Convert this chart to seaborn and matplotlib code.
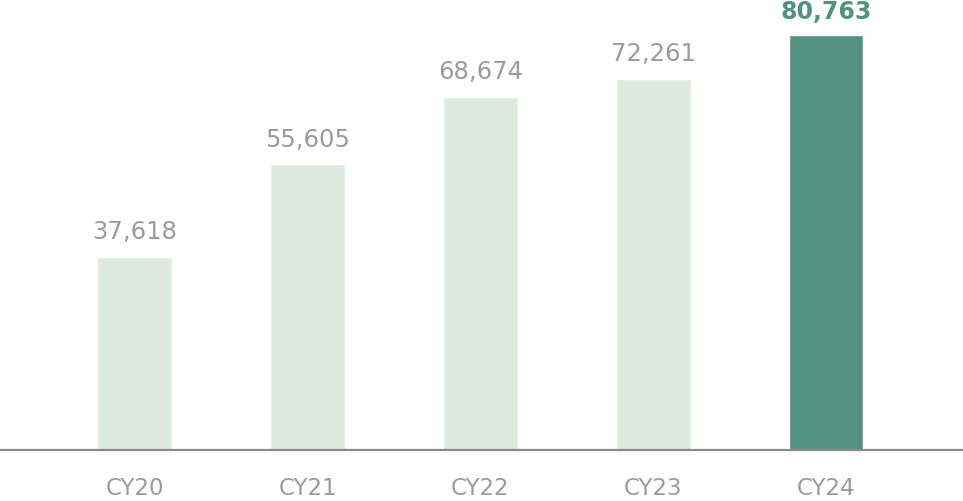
import matplotlib
matplotlib.use('Agg')
import matplotlib.pyplot as plt
import seaborn as sns
import pandas as pd

# ======= data =======
years = ['CY20', 'CY21', 'CY22', 'CY23', 'CY24']
values = [37618, 55605, 68674, 72261, 80763]
highlight = 'CY24'

light_green = '#dee9e0'
dark_green = '#52927f'
gray_text = '#9b9b9b'

sns.set_theme(style='white')
plt.rcParams['font.family'] = ['DejaVu Sans']

df = pd.DataFrame({'year': years, 'value': values})
palette = {y: (dark_green if y == highlight else light_green) for y in years}

fig = plt.figure(figsize=(9.63, 5.02), dpi=100)
ax = fig.add_axes([0, 51 / 502, 1, 451 / 502])

sns.barplot(data=df, x='year', y='value', hue='year', palette=palette,
            width=0.434, saturation=1, legend=False, ax=ax)

# 数值标签
for i, (y, v) in enumerate(zip(years, values)):
    is_hl = (y == highlight)
    ax.annotate(f'{v:,}', xy=(i, v), xytext=(0, 12.5 if is_hl else 13.5),
                textcoords='offset points',
                ha='center', va='baseline', fontsize=17 if is_hl else 17.5,
                color=dark_green if is_hl else gray_text,
                fontweight='bold' if is_hl else 'normal')

ax.set_xlim(-0.781, 4.793)
ax.set_ylim(0, 87780)
ax.set_xlabel('')
ax.set_ylabel('')
ax.set_yticks([])
ax.tick_params(axis='x', length=0, pad=19, labelsize=16.5, labelcolor=gray_text)

for s in ['top', 'left', 'right']:
    ax.spines[s].set_visible(False)
ax.spines['bottom'].set_color('#8a8a8a')
ax.spines['bottom'].set_linewidth(1.6)

fig.savefig('out.png', dpi=100)
plt.close(fig)
